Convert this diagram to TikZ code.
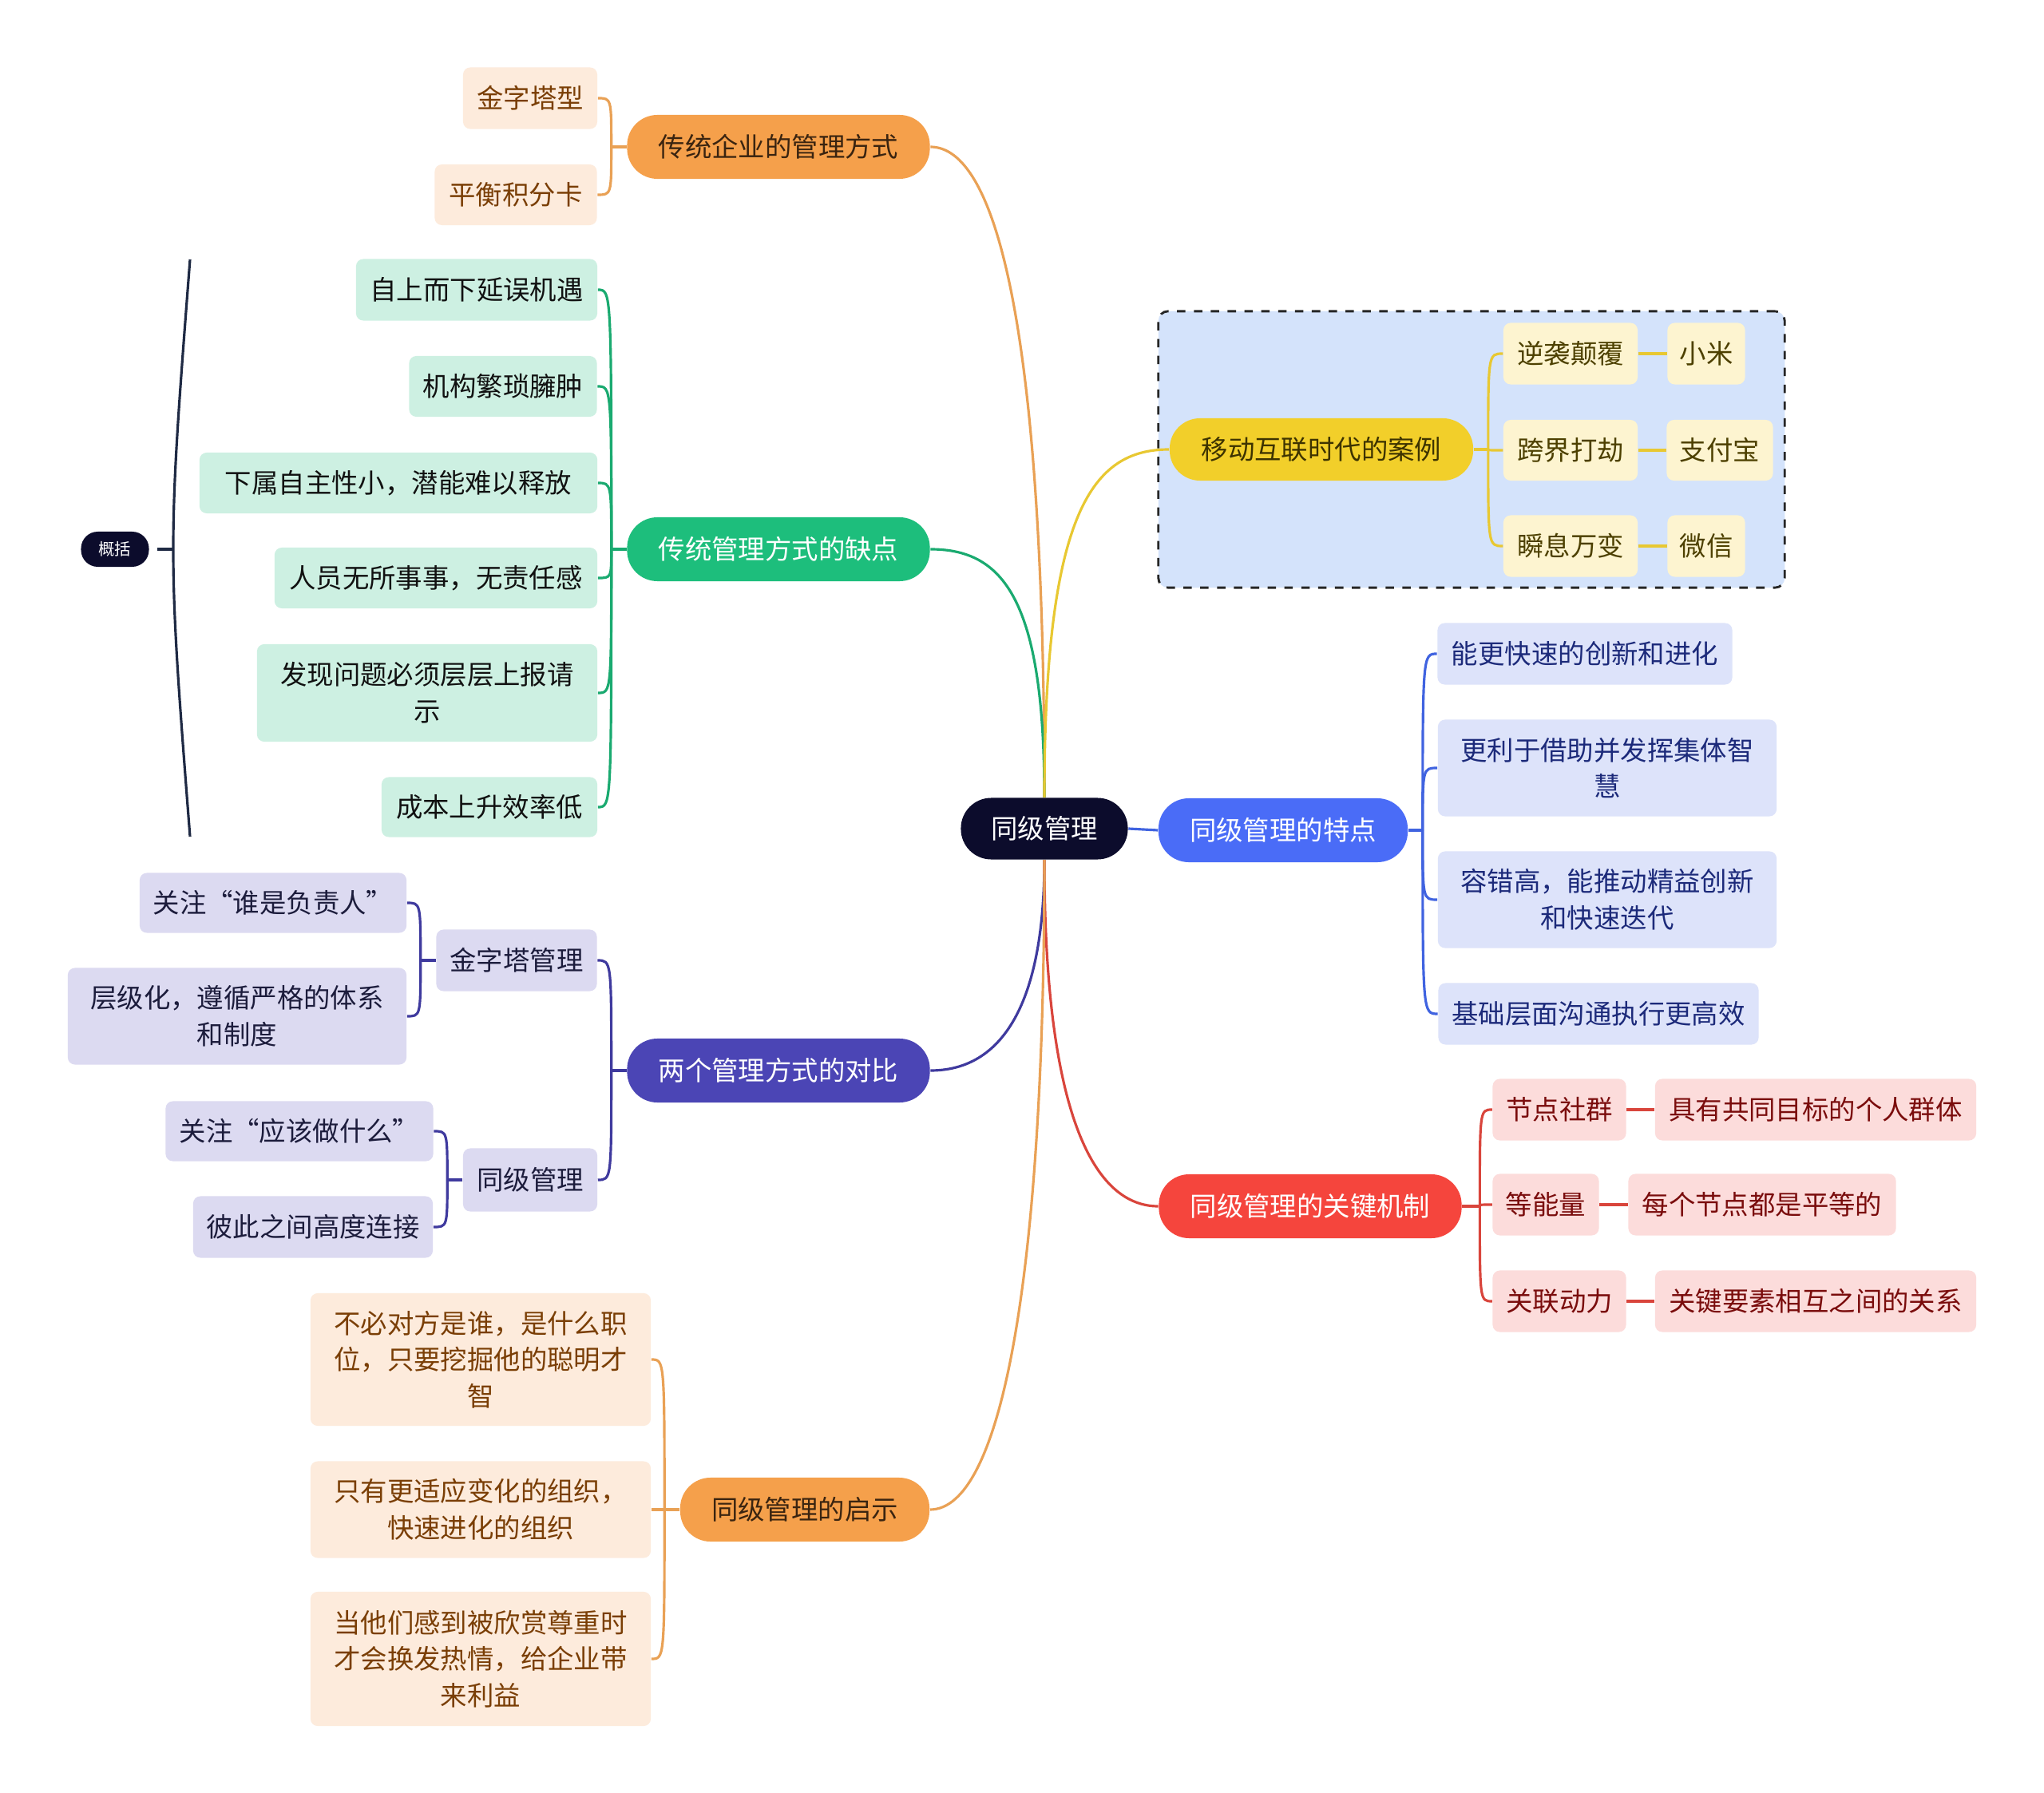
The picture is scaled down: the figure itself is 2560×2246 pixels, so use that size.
\documentclass[tikz,border=0pt]{standalone}
\usepackage{fontspec}
\newfontfamily\cjk{Noto Sans CJK SC}
\definecolor{cRoot}{HTML}{0C0C2C}
\definecolor{cOr}{HTML}{F5A04B}
\definecolor{cOrT}{HTML}{3A2410}
\definecolor{cOrL}{HTML}{E9A155}
\definecolor{cOrF}{HTML}{FDEBDC}
\definecolor{cOrC}{HTML}{7A3E05}
\definecolor{cGr}{HTML}{1DBE7C}
\definecolor{cGrL}{HTML}{1AAA70}
\definecolor{cGrF}{HTML}{CDF0E2}
\definecolor{cGrC}{HTML}{111111}
\definecolor{cPu}{HTML}{4B45B5}
\definecolor{cPuL}{HTML}{3F3A9E}
\definecolor{cPuF}{HTML}{DCDAF1}
\definecolor{cPuC}{HTML}{1C1C3C}
\definecolor{cYe}{HTML}{F2CF2A}
\definecolor{cYeT}{HTML}{3D3300}
\definecolor{cYeL}{HTML}{E8C832}
\definecolor{cYeF}{HTML}{FDF4D0}
\definecolor{cYeC}{HTML}{4D4000}
\definecolor{cBl}{HTML}{4A6CF7}
\definecolor{cBlL}{HTML}{4063E0}
\definecolor{cBlF}{HTML}{DDE3FA}
\definecolor{cBlC}{HTML}{1C2A7A}
\definecolor{cRe}{HTML}{F5453D}
\definecolor{cReL}{HTML}{D9453C}
\definecolor{cReF}{HTML}{FCDCDB}
\definecolor{cReC}{HTML}{7A0C0C}
\definecolor{cFrame}{HTML}{D4E3FB}
\definecolor{cSumL}{HTML}{1F2A44}
\begin{document}
\begin{tikzpicture}[x=0.01cm,y=-0.01cm,
  base/.style={font=\cjk\fontsize{9.5pt}{13pt}\selectfont, align=center, inner sep=0pt},
  pill/.style={base, rounded corners=0.38cm},
  box/.style={base, rounded corners=0.09cm},
  orp/.style={pill, fill=cOr, text=cOrT},
  orc/.style={box, fill=cOrF, text=cOrC},
  grp/.style={pill, fill=cGr, text=white},
  grc/.style={box, fill=cGrF, text=cGrC},
  pup/.style={pill, fill=cPu, text=white},
  puc/.style={box, fill=cPuF, text=cPuC},
  yep/.style={pill, fill=cYe, text=cYeT},
  yec/.style={box, fill=cYeF, text=cYeC},
  blp/.style={pill, fill=cBl, text=white},
  blc/.style={box, fill=cBlF, text=cBlC},
  rep/.style={pill, fill=cRe, text=white},
  rec/.style={box, fill=cReF, text=cReC},
  ln/.style={line width=0.9pt},
]
\useasboundingbox (0,0) rectangle (2560,2246);
\fill[white] (0,0) rectangle (2560,2246);

% dashed frame
\node[draw=black!85, dashed, line width=0.8pt, fill=cFrame, rounded corners=0.12cm,
  minimum width=7.84cm, minimum height=3.46cm, inner sep=0pt] (frame) at (1843,563) {};

% root
\node[pill, fill=cRoot, text=white, minimum width=2.09cm, minimum height=0.77cm] (root) at (1308,1038) {同级管理};

% main branches
\node[orp, minimum width=3.79cm, minimum height=0.80cm] (o) at (975,184) {传统企业的管理方式};
\node[grp, minimum width=3.79cm, minimum height=0.80cm] (g) at (975,688) {传统管理方式的缺点};
\node[pup, minimum width=3.79cm, minimum height=0.80cm] (p) at (975,1341) {两个管理方式的对比};
\node[orp, minimum width=3.12cm, minimum height=0.80cm] (s) at (1008,1891) {同级管理的启示};
\node[yep, minimum width=3.80cm, minimum height=0.78cm] (y) at (1655,563) {移动互联时代的案例};
\node[blp, minimum width=3.12cm, minimum height=0.80cm] (b) at (1607,1040) {同级管理的特点};
\node[rep, minimum width=3.79cm, minimum height=0.80cm] (r) at (1641,1511) {同级管理的关键机制};

% orange top children
\node[orc, minimum width=1.68cm, minimum height=0.77cm] (o1) at (664,123) {金字塔型};
\node[orc, minimum width=2.03cm, minimum height=0.76cm] (o2) at (646,244) {平衡积分卡};

% green children
\node[grc, minimum width=3.02cm, minimum height=0.77cm] (g1) at (597,363) {自上而下延误机遇};
\node[grc, minimum width=2.35cm, minimum height=0.76cm] (g2) at (630,484) {机构繁琐臃肿};
\node[grc, minimum width=4.98cm, minimum height=0.76cm] (g3) at (499,605) {下属自主性小，潜能难以释放};
\node[grc, minimum width=4.04cm, minimum height=0.76cm] (g4) at (546,724) {人员无所事事，无责任感};
\node[grc, minimum width=4.26cm, minimum height=1.22cm] (g5) at (535,868) {发现问题必须层层上报请\\示};
\node[grc, minimum width=2.70cm, minimum height=0.75cm] (g6) at (613,1011) {成本上升效率低};

% summary
\node[pill, fill=cRoot, text=white, font=\cjk\fontsize{5.8pt}{7pt}\selectfont, rounded corners=0.21cm,
  minimum width=0.85cm, minimum height=0.44cm] (sum) at (144,688) {概括};

% purple children
\node[puc, minimum width=2.01cm, minimum height=0.77cm] (pa) at (647,1203) {金字塔管理};
\node[puc, minimum width=1.68cm, minimum height=0.79cm] (pb) at (664,1478) {同级管理};
\node[puc, minimum width=3.34cm, minimum height=0.75cm] (pa1) at (342,1131) {关注“谁是负责人”};
\node[puc, minimum width=4.24cm, minimum height=1.21cm] (pa2) at (297,1273) {层级化，遵循严格的体系\\和制度};
\node[puc, minimum width=3.35cm, minimum height=0.75cm] (pb1) at (375,1417) {关注“应该做什么”};
\node[puc, minimum width=3.00cm, minimum height=0.77cm] (pb2) at (392,1537) {彼此之间高度连接};

% bottom orange children
\node[orc, minimum width=4.26cm, minimum height=1.66cm] (s1) at (602,1703) {不必对方是谁，是什么职\\位，只要挖掘他的聪明才\\智};
\node[orc, minimum width=4.26cm, minimum height=1.21cm] (s2) at (602,1891) {只有更适应变化的组织，\\快速进化的组织};
\node[orc, minimum width=4.26cm, minimum height=1.68cm] (s3) at (602,2078) {当他们感到被欣赏尊重时\\才会换发热情，给企业带\\来利益};

% yellow children
\node[yec, minimum width=1.68cm, minimum height=0.77cm] (ya) at (1967,443) {逆袭颠覆};
\node[yec, minimum width=1.68cm, minimum height=0.76cm] (yb) at (1967,564) {跨界打劫};
\node[yec, minimum width=1.68cm, minimum height=0.77cm] (yc) at (1967,684) {瞬息万变};
\node[yec, minimum width=0.97cm, minimum height=0.77cm] (yaa) at (2137,443) {小米};
\node[yec, minimum width=1.33cm, minimum height=0.76cm] (ybb) at (2154,564) {支付宝};
\node[yec, minimum width=0.97cm, minimum height=0.77cm] (ycc) at (2137,684) {微信};

% blue children
\node[blc, minimum width=3.69cm, minimum height=0.77cm] (b1) at (1985,819) {能更快速的创新和进化};
\node[blc, minimum width=4.24cm, minimum height=1.21cm] (b2) at (2013,962) {更利于借助并发挥集体智\\慧};
\node[blc, minimum width=4.24cm, minimum height=1.21cm] (b3) at (2013,1127) {容错高，能推动精益创新\\和快速迭代};
\node[blc, minimum width=4.01cm, minimum height=0.77cm] (b4) at (2002,1270) {基础层面沟通执行更高效};

% red children
\node[rec, minimum width=1.67cm, minimum height=0.77cm] (ra) at (1953,1390) {节点社群};
\node[rec, minimum width=1.33cm, minimum height=0.77cm] (rb) at (1936,1509) {等能量};
\node[rec, minimum width=1.67cm, minimum height=0.77cm] (rc) at (1953,1630) {关联动力};
\node[rec, minimum width=4.02cm, minimum height=0.77cm] (raa) at (2274,1390) {具有共同目标的个人群体};
\node[rec, minimum width=3.35cm, minimum height=0.77cm] (rbb) at (2207,1509) {每个节点都是平等的};
\node[rec, minimum width=4.02cm, minimum height=0.77cm] (rcc) at (2274,1630) {关键要素相互之间的关系};

% ---- connectors: root to branches
\begin{scope}[on background layer/.style={}]
\draw[ln, cOrL] (root.north) .. controls +(0,-600) and +(80,0) .. (o.east);
\draw[ln, cGrL] (root.north) .. controls +(0,-250) and +(90,0) .. (g.east);
\draw[ln, cYeL] (root.north) .. controls +(0,-360) and +(-95,0) .. (y.west);
\draw[ln, cPuL] (root.south) .. controls +(0,180) and +(90,0) .. (p.east);
\draw[ln, cReL] (root.south) .. controls +(0,320) and +(-80,0) .. (r.west);
\draw[ln, cOrL] (root.south) .. controls +(0,520) and +(90,0) .. (s.east);
\draw[ln, cBlL] (root.east) -- (b.west);
\end{scope}

% ---- branch to children
\coordinate (ot) at ([xshift=-0.19cm]o.west);
\draw[ln, cOrL] (o.west) -- (ot);
\foreach \c in {o1,o2} \draw[ln, cOrL] (ot) .. controls (ot |- \c.east) .. (\c.east);

\coordinate (gt) at ([xshift=-0.19cm]g.west);
\draw[ln, cGrL] (g.west) -- (gt);
\foreach \c in {g1,g2,g3,g4,g5,g6} \draw[ln, cGrL] (gt) .. controls (gt |- \c.east) .. (\c.east);

\coordinate (pt) at ([xshift=-0.19cm]p.west);
\draw[ln, cPuL] (p.west) -- (pt);
\foreach \c in {pa,pb} \draw[ln, cPuL] (pt) .. controls (pt |- \c.east) .. (\c.east);

\coordinate (pat) at ([xshift=-0.19cm]pa.west);
\draw[ln, cPuL] (pa.west) -- (pat);
\foreach \c in {pa1,pa2} \draw[ln, cPuL] (pat) .. controls (pat |- \c.east) .. (\c.east);

\coordinate (pbt) at ([xshift=-0.19cm]pb.west);
\draw[ln, cPuL] (pb.west) -- (pbt);
\foreach \c in {pb1,pb2} \draw[ln, cPuL] (pbt) .. controls (pbt |- \c.east) .. (\c.east);

\coordinate (st) at ([xshift=-0.19cm]s.west);
\draw[ln, cOrL] (s.west) -- (st);
\foreach \c in {s1,s2,s3} \draw[ln, cOrL] (st) .. controls (st |- \c.east) .. (\c.east);

\coordinate (yt) at ([xshift=0.18cm]y.east);
\draw[ln, cYeL] (y.east) -- (yt);
\foreach \c in {ya,yb,yc} \draw[ln, cYeL] (yt) .. controls (yt |- \c.west) .. (\c.west);
\draw[ln, cYeL] (ya.east) -- (yaa.west);
\draw[ln, cYeL] (yb.east) -- (ybb.west);
\draw[ln, cYeL] (yc.east) -- (ycc.west);

\coordinate (bt) at ([xshift=0.18cm]b.east);
\draw[ln, cBlL] (b.east) -- (bt);
\foreach \c in {b1,b2,b3,b4} \draw[ln, cBlL] (bt) .. controls (bt |- \c.west) .. (\c.west);

\coordinate (rt) at ([xshift=0.22cm]r.east);
\draw[ln, cReL] (r.east) -- (rt);
\foreach \c in {ra,rb,rc} \draw[ln, cReL] (rt) .. controls (rt |- \c.west) .. (\c.west);
\draw[ln, cReL] (ra.east) -- (raa.west);
\draw[ln, cReL] (rb.east) -- (rbb.west);
\draw[ln, cReL] (rc.east) -- (rcc.west);

% summary bracket
\coordinate (sbt) at (238,325);
\coordinate (sbb) at (238,1048);
\coordinate (sbc) at (210,688);
\coordinate (sbm) at (217,688);
\draw[line width=0.9pt, cSumL] (sbt) .. controls (sbc) .. (sbb);
\draw[line width=0.9pt, cSumL] (sbm) -- ([xshift=0.1cm]sum.east);
\end{tikzpicture}
\end{document}
